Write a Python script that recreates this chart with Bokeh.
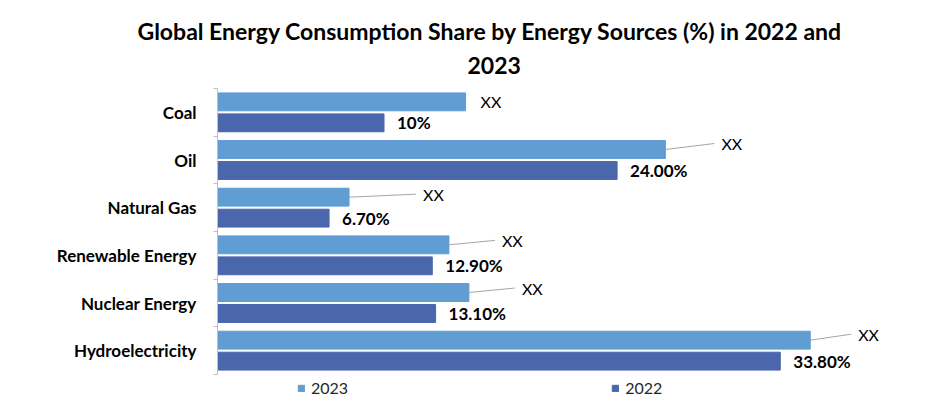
from bokeh.plotting import figure
from bokeh.models import Range1d, FixedTicker, Legend, LegendItem, Title
from bokeh.core.properties import value
from bokeh.embed import file_html
from bokeh.resources import INLINE

categories = ["Coal", "Oil", "Natural Gas", "Renewable Energy", "Nuclear Energy", "Hydroelectricity"]
values_2023 = [14.9, 26.9, 7.9, 13.9, 15.1, 35.6]
values_2022 = [10.0, 24.0, 6.7, 12.9, 13.1, 33.8]
labels_2022 = ["10%", "24.00%", "6.70%", "12.90%", "13.10%", "33.80%"]
labels_2023 = ["XX", "XX", "XX", "XX", "XX", "XX"]
series = ["2023", "2022"]
title_lines = ["Global Energy Consumption Share by Energy Sources (%) in 2022 and", "2023"]

FONT = "Lato"
C2023 = "#5F9DD3"
C2022 = "#4A66AC"

# label leader offsets (px): style only
lead_dx = [0, 49, 67, 46, 46, 41]
lead_dy = [0, 6, 3, 4.5, 4.5, 6]

X_MAX = 40
FRAME_W = 666
CAT_H = 286          # px height of the category area
FRAME_H = 317        # frame height incl. legend strip
n = len(categories)
pxx = FRAME_W / X_MAX
pxy = CAT_H / n
y_end = FRAME_H / pxy

centers = [i + 0.5 for i in range(n)]
y23 = [c - 0.22 for c in centers]
y22 = [c + 0.22 for c in centers]

p = figure(width=925, height=410, output_backend="svg", toolbar_location=None,
           x_range=Range1d(0, X_MAX), y_range=Range1d(y_end, 0),
           min_border_left=217, min_border_right=42, min_border_top=88, min_border_bottom=5)
p.outline_line_color = None
p.xgrid.visible = False
p.ygrid.visible = False
p.xaxis.visible = False

r23 = p.hbar(y=y23, right=values_2023, left=0, height=0.375, color=C2023)
r22 = p.hbar(y=y22, right=values_2022, left=0, height=0.375, color=C2022)

ya = p.yaxis[0]
ya.bounds = (0, n)
ya.ticker = FixedTicker(ticks=centers, minor_ticks=list(range(n + 1)))
ya.major_label_overrides = {c: cat for c, cat in zip(centers, categories)}
ya.major_tick_out = 0
ya.major_tick_in = 0
ya.minor_tick_out = 4
ya.minor_tick_in = 0
ya.minor_tick_line_color = "#BFBFBF"
ya.axis_line_color = "#BFBFBF"
ya.major_label_text_font = FONT
ya.major_label_text_font_style = "bold"
ya.major_label_text_font_size = "17px"
ya.major_label_text_color = "#000000"
ya.major_label_standoff = 17

# 2022 value labels
p.text(x=values_2022, y=y22, text=labels_2022, x_offset=13,
       text_font=value(FONT), text_font_style="bold", text_font_size="17px",
       text_baseline="middle", text_align="left", text_color="#000000")

# 2023 labels with leader lines
x1 = [v + dx / pxx for v, dx in zip(values_2023, lead_dx)]
y1 = [y - dy / pxy for y, dy in zip(y23, lead_dy)]
seg_idx = [i for i in range(n) if lead_dx[i] > 0]
p.segment(x0=[values_2023[i] for i in seg_idx], y0=[y23[i] for i in seg_idx],
          x1=[x1[i] for i in seg_idx], y1=[y1[i] for i in seg_idx],
          line_color="#A6A6A6", line_width=1)
p.text(x=x1, y=y1, text=labels_2023, x_offset=[7 if d > 0 else 15 for d in lead_dx],
       text_font=value(FONT), text_font_size="16px",
       text_baseline="middle", text_align="left", text_color="#000000")

legend = Legend(items=[LegendItem(label=series[0], renderers=[r23]),
                       LegendItem(label=series[1], renderers=[r22])],
                orientation="horizontal", location=(80, 8),
                glyph_width=8, glyph_height=8, label_standoff=6, spacing=263,
                padding=0, margin=0, border_line_color=None, background_fill_alpha=0,
                label_text_font=FONT, label_text_font_size="16px", label_text_color="#262626")
p.add_layout(legend, "center")

p.title.visible = False
t2 = Title(text=title_lines[1], align="left", offset=250, text_font=FONT,
           text_font_size="23px", text_font_style="bold", text_color="#000000", standoff=30)
t1 = Title(text=title_lines[0], align="left", offset=-80, text_font=FONT,
           text_font_size="23px", text_font_style="bold", text_color="#000000", standoff=-10)
p.add_layout(t2, "above")
p.add_layout(t1, "above")

open("out.html", "w").write(file_html(p, INLINE))
